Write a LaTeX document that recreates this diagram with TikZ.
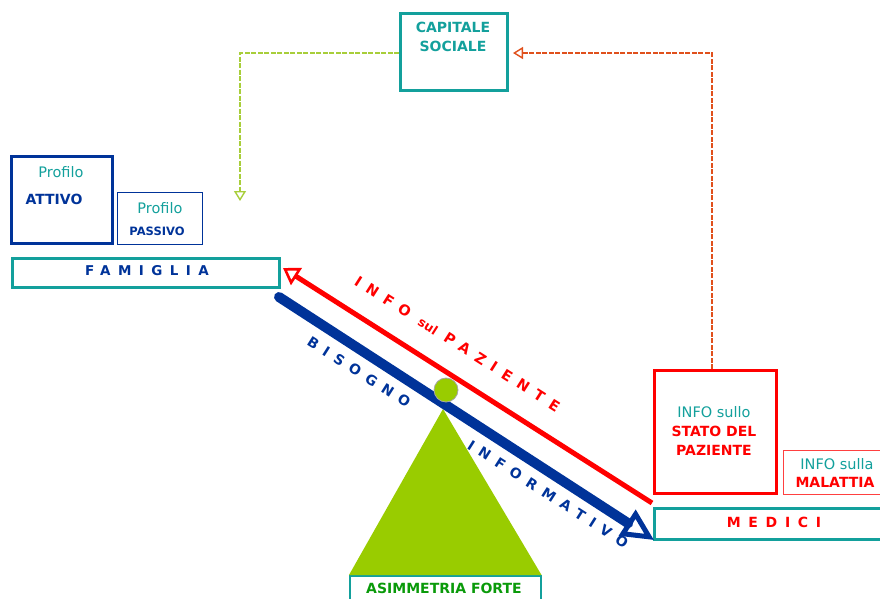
\documentclass[tikz,border=0pt]{standalone}
\usepackage{fontspec}
\setmainfont{DejaVu Sans}
\usetikzlibrary{arrows.meta}
\definecolor{tealc}{HTML}{13A09C}
\definecolor{navy}{HTML}{003399}
\definecolor{redc}{HTML}{FF0000}
\definecolor{lime}{HTML}{99CC00}
\definecolor{limedash}{HTML}{A8CE3A}
\definecolor{orangedash}{HTML}{E0501C}
\definecolor{greentext}{HTML}{0A9A0A}
\newcommand{\wide}[1]{{\addfontfeatures{LetterSpace=55}#1}}
\tikzset{
  box/.style={draw, inner sep=0pt, anchor=north west},
  lbl/.style={inner sep=0pt, anchor=center},
  dashlink/.style={line width=2.8pt, dash pattern=on 5pt off 1.5pt},
}
\begin{document}
\begin{tikzpicture}[x=1pt,y=-1pt]
\useasboundingbox (0,0) rectangle (880,598);

% boxes
\node[box, tealc, line width=3pt, minimum width=107pt, minimum height=77pt] (cap) at (399,12) {};
\node[box, navy, line width=3pt, minimum width=101pt, minimum height=87pt] (att) at (10,155) {};
\node[box, navy, line width=1.4pt, minimum width=85pt, minimum height=52pt] (pas) at (117,192) {};
\node[box, tealc, line width=2.6pt, minimum width=267pt, minimum height=29pt] (fam) at (11,257) {};
\node[box, redc, line width=3pt, minimum width=122pt, minimum height=123pt] (sta) at (653,369) {};
\node[box, redc!75, line width=1.2pt, minimum width=110pt, minimum height=44pt] (mal) at (783,450) {};
\node[box, tealc, line width=2.6pt, minimum width=240pt, minimum height=31pt] (med) at (653,507) {};
\node[box, tealc, line width=1.5pt, minimum width=191pt, minimum height=30pt] (asy) at (349,575) {};

% box texts
\node[lbl, tealc, font=\bfseries\fontsize{14}{19}\selectfont, align=center] (capt) at (453,37) {CAPITALE\\SOCIALE};
\node[lbl, tealc, font=\fontsize{14.5}{16}\selectfont] (att1) at (61,172) {Profilo};
\node[lbl, navy, font=\bfseries\fontsize{14}{16}\selectfont] (att2) at (54,199) {ATTIVO};
\node[lbl, tealc, font=\fontsize{14.5}{16}\selectfont] (pas1) at (160,208) {Profilo};
\node[lbl, navy, font=\bfseries\fontsize{11.5}{13}\selectfont] (pas2) at (157,231) {PASSIVO};
\node[lbl, navy, font=\bfseries\fontsize{13.5}{14}\selectfont] (famt) at (147,271) {\wide{FAMIGLIA}};
\node[lbl, tealc, font=\fontsize{14.5}{16}\selectfont] (sta1) at (714,412) {INFO sullo};
\node[lbl, redc, font=\bfseries\fontsize{14}{19}\selectfont, align=center] (sta2) at (714,441) {STATO DEL\\PAZIENTE};
\node[lbl, tealc, font=\fontsize{14.5}{16}\selectfont] (mal1) at (837,464) {INFO sulla};
\node[lbl, redc, font=\bfseries\fontsize{14}{16}\selectfont] (mal2) at (835,482) {MALATTIA};
\node[lbl, redc, font=\bfseries\fontsize{14}{15}\selectfont] (medt) at (774,522) {\wide{MEDICI}};

% dashed links to and from CAPITALE SOCIALE
\coordinate (gcorner) at (240,53);
\coordinate (gend) at (240,201);
\draw[limedash, dashlink, -{Triangle[open, length=10pt, width=12pt, line width=1.4pt]}]
  (cap.west |- gcorner) -- (gcorner) -- (gend);
\coordinate (ocorner) at (712,53);
\coordinate (oend) at (513,53);
\draw[orangedash, dashlink, -{Triangle[open, length=10pt, width=12pt, line width=1.4pt]}]
  (sta.north -| ocorner) -- (ocorner) -- (oend);

% balance: triangle, pivot and beam
\coordinate (apex) at (443,409);
\fill[lime] (apex) -- (asy.north east) -- (asy.north west) -- cycle;

\coordinate (rs) at (652,503);
\coordinate (re) at (283,268);
\draw[redc, line width=5pt, {Triangle[open, length=16pt, width=20pt, line width=2.6pt]}-] (re) -- (rs);

\coordinate (bs) at (279,297);
\coordinate (be) at (654,540);
\draw[navy, line width=10pt, line cap=round, -{Triangle[open, length=32pt, width=30pt, line width=5pt]}] (bs) -- (be);

\node[circle, fill=lime, draw=gray!70, line width=0.8pt, minimum size=24pt, inner sep=0pt] (piv) at (446,390) {};

% beam labels
\tikzset{beam/.style={lbl, rotate=-32.5, font=\bfseries\fontsize{14.5}{16}\selectfont}}
\node[beam, redc] (info1) at (383,297) {\wide{INFO}};
\node[beam, redc, font=\bfseries\fontsize{12.5}{14}\selectfont] (info2) at (428,326) {sul};
\node[beam, redc] (info3) at (502,372) {\wide{PAZIENTE}};
\node[beam, navy, font=\bfseries\fontsize{14}{15}\selectfont] (bis) at (359,372) {\wide{BISOGNO}};
\node[beam, navy, font=\bfseries\fontsize{14}{15}\selectfont] (inf) at (548,494) {\wide{INFORMATIVO}};

\node[lbl, greentext, font=\bfseries\fontsize{14}{16}\selectfont] (asyt) at (444,588) {ASIMMETRIA FORTE};
\end{tikzpicture}
\end{document}
